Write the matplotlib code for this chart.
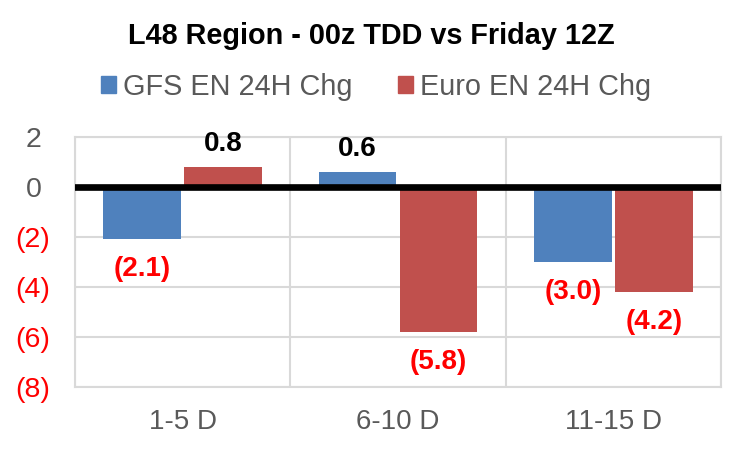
import matplotlib.pyplot as plt
import numpy as np
from matplotlib.patches import Patch

# Dados
categories = ['1-5 D', '6-10 D', '11-15 D']
gfs_chg = [-2.1, 0.6, -3.0]
euro_chg = [0.8, -5.8, -4.2]
series_names = ['GFS EN 24H Chg', 'Euro EN 24H Chg']
y_ticks = [2, 0, -2, -4, -6, -8]

blue = '#4F81BD'
red = '#C0504D'
grid_c = '#D9D9D9'
gray = '#595959'

plt.rcParams['font.family'] = ['Liberation Sans', 'DejaVu Sans']

fig = plt.figure(figsize=(7.43, 4.5), dpi=100)
ax = fig.add_axes([75 / 743, 1 - 386.7 / 450, (721 - 75) / 743, 250 / 450])

x = np.arange(len(categories))
w = 0.362
off = 0.188
ax.bar(x - off, gfs_chg, w, color=blue, zorder=2)
ax.bar(x + off, euro_chg, w, color=red, zorder=2)

ax.set_xlim(-0.5, len(categories) - 0.5)
ax.set_ylim(-8, 2)

# Grade
ax.set_yticks(y_ticks)
ax.set_xticks(x)
ax.set_xticks(np.arange(-0.5, len(categories), 1), minor=True)
ax.grid(axis='y', which='major', color=grid_c, lw=1.5, zorder=0)
ax.grid(axis='x', which='minor', color=grid_c, lw=1.5, zorder=0)
ax.tick_params(which='both', length=0)
for s in ax.spines.values():
    s.set_color(grid_c)
    s.set_linewidth(1.5)
ax.axhline(0, color='black', lw=4.8, zorder=3)

# Rótulos dos eixos
ax.set_yticklabels([f'({abs(v)})' if v < 0 else f'{v} ' for v in y_ticks], fontsize=20.5)
for lbl, v in zip(ax.get_yticklabels(), y_ticks):
    lbl.set_color('red' if v < 0 else gray)
ax.tick_params(axis='y', pad=18)
ax.set_xticklabels(categories, fontsize=20, color=gray)
ax.tick_params(axis='x', pad=16)

# Rótulos de dados
for xs, vals in [(x - off, gfs_chg), (x + off, euro_chg)]:
    for xi, v in zip(xs, vals):
        if v >= 0:
            ax.annotate(f'{v:.1f}', (xi, v), xytext=(0, 16), textcoords='offset points',
                        ha='center', va='center', fontsize=20, fontweight='bold', color='black')
        else:
            ax.annotate(f'({abs(v):.1f})', (xi, v), xytext=(0, -21.5), textcoords='offset points',
                        ha='center', va='center', fontsize=20, fontweight='bold', color='red')

fig.text(0.5, 1 - 36 / 450, 'L48 Region - 00z TDD vs Friday 12Z', ha='center', va='center',
         fontsize=20.8, fontweight='bold')

handles = [Patch(color=blue), Patch(color=red)]
leg = fig.legend(handles, series_names, loc='center', bbox_to_anchor=(376 / 743, 1 - 87 / 450),
                 ncol=2, frameon=False, fontsize=20.8, handlelength=0.52, handleheight=0.52,
                 handletextpad=0.26, columnspacing=1.56)
for t in leg.get_texts():
    t.set_color(gray)

plt.savefig('out.png', dpi=100)
